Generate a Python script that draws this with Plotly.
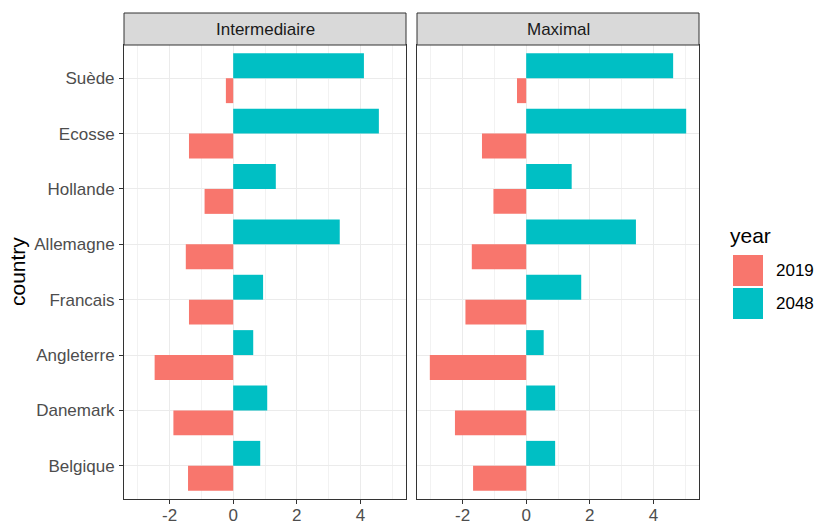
import plotly.graph_objects as go

# Data: change per country, two scenarios, two years
countries = ["Belgique", "Danemark", "Angleterre", "Francais",
             "Allemagne", "Hollande", "Ecosse", "Suède"]
panels = ["Intermediaire", "Maximal"]
years = ["2019", "2048"]

inter_2019 = [-1.42, -1.88, -2.47, -1.39, -1.49, -0.90, -1.39, -0.23]
inter_2048 = [0.85, 1.07, 0.63, 0.94, 3.35, 1.34, 4.58, 4.11]
max_2019 = [-1.67, -2.24, -3.03, -1.91, -1.71, -1.03, -1.39, -0.29]
max_2048 = [0.91, 0.91, 0.55, 1.73, 3.45, 1.43, 5.03, 4.62]

x_ticks = [-2, 0, 2, 4]
x_minor = [-3, -1, 1, 3, 5]

colors = {"2019": "#F8766D", "2048": "#00BFC4"}
series = {
    "Intermediaire": {"2019": inter_2019, "2048": inter_2048},
    "Maximal": {"2019": max_2019, "2048": max_2048},
}

FONT = "Liberation Sans, Arial, sans-serif"
W, H = 816, 525
# plot area in pixels
L, R, T, B = 124, 699, 13, 499
GAP = 11          # gap between the two panels
STRIP = 32        # strip height

pw = R - L
ph = B - T


def px(x):
    return (x - L) / pw


def py(y):
    return (B - y) / ph


fig = go.Figure()

for i, panel in enumerate(panels):
    xa = "x" if i == 0 else "x2"
    ya = "y" if i == 0 else "y2"
    for yr in years:
        fig.add_trace(go.Bar(
            x=series[panel][yr], y=countries, orientation="h",
            name=yr, marker=dict(color=colors[yr], line=dict(width=0)),
            xaxis=xa, yaxis=ya, showlegend=False,
        ))

all_vals = inter_2019 + inter_2048 + max_2019 + max_2048
lo, hi = min(all_vals), max(all_vals)
pad = 0.05 * (hi - lo)
xrange = [lo - pad, hi + pad]

panel_w = (pw - GAP) / 2
dom1 = [0, panel_w / pw]
dom2 = [(panel_w + GAP) / pw, 1]
ytop = (ph - STRIP) / ph

xcommon = dict(
    range=xrange, tickvals=x_ticks, ticktext=[str(v) for v in x_ticks],
    ticks="outside", ticklen=4, tickwidth=1, tickcolor="#333333",
    ticklabelstandoff=-3,
    tickfont=dict(family=FONT, size=17, color="#4D4D4D"),
    showgrid=True, gridcolor="#EBEBEB", gridwidth=1.1,
    zeroline=False, showline=True, linecolor="#333333", linewidth=1,
    mirror=True, automargin=False,
    minor=dict(tickvals=x_minor, showgrid=True, gridcolor="#F2F2F2",
               gridwidth=0.6, ticks=""),
)
ycommon = dict(
    type="category", categoryorder="array", categoryarray=countries,
    range=[-0.6, len(countries) - 0.4], domain=[0, ytop],
    showgrid=True, gridcolor="#EBEBEB", gridwidth=1.1,
    zeroline=False, showline=True, linecolor="#333333", linewidth=1,
    mirror=True, automargin=False,
)

fig.update_layout(
    width=W, height=H,
    margin=dict(l=L, r=W - R, t=T, b=H - B, autoexpand=False),
    paper_bgcolor="white", plot_bgcolor="white",
    barmode="group", bargap=0.1, bargroupgap=0,
    font=dict(family=FONT),
    xaxis=dict(domain=dom1, anchor="y", **xcommon),
    xaxis2=dict(domain=dom2, anchor="y2", **xcommon),
    yaxis=dict(anchor="x", ticks="outside", ticklen=4, tickwidth=1,
               tickcolor="#333333", ticklabelstandoff=1,
               tickfont=dict(family=FONT, size=17, color="#4D4D4D"),
               **ycommon),
    yaxis2=dict(anchor="x2", showticklabels=False, ticks="", **ycommon),
)

shapes = []
annotations = []

# facet strips
for dom, panel in zip([dom1, dom2], panels):
    shapes.append(dict(
        type="rect", xref="paper", yref="paper",
        x0=dom[0], x1=dom[1], y0=ytop, y1=1,
        fillcolor="#D9D9D9", line=dict(color="#333333", width=1),
        layer="above",
    ))
    annotations.append(dict(
        text=panel, xref="paper", yref="paper",
        x=(dom[0] + dom[1]) / 2, y=(ytop + 1) / 2,
        xanchor="center", yanchor="middle", showarrow=False,
        font=dict(family=FONT, size=17, color="#1A1A1A"),
    ))

# y axis title
annotations.append(dict(
    text="country", xref="paper", yref="paper",
    x=px(17), y=ytop / 2, xanchor="center", yanchor="middle",
    textangle=-90, showarrow=False,
    font=dict(family=FONT, size=21, color="black"),
))

# legend
annotations.append(dict(
    text="year", xref="paper", yref="paper", x=px(728), y=py(236),
    xanchor="left", yanchor="middle", showarrow=False,
    font=dict(family=FONT, size=21, color="black"),
))
key_top = 255
key_h = 31
for j, yr in enumerate(years):
    y0 = key_top + j * (key_h + 2)
    shapes.append(dict(
        type="rect", xref="paper", yref="paper",
        x0=px(733), x1=px(763), y0=py(y0 + key_h), y1=py(y0),
        fillcolor=colors[yr], line=dict(width=0),
    ))
    annotations.append(dict(
        text=yr, xref="paper", yref="paper",
        x=px(774), y=py(y0 + key_h / 2), xanchor="left", yanchor="middle",
        showarrow=False, font=dict(family=FONT, size=17, color="black"),
    ))

fig.update_layout(shapes=shapes, annotations=annotations)

fig.write_html("out.html")
